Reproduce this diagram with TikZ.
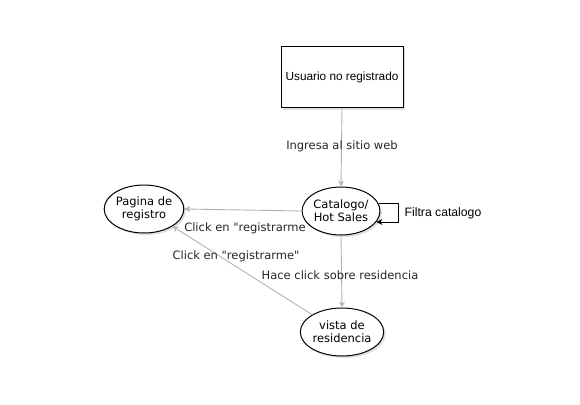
\documentclass[tikz,border=0pt]{standalone}
\usepackage{fontspec}
\setmainfont{DejaVu Sans}[Ligatures=TeXOff]
\newfontfamily\arialf{Liberation Sans}
\usetikzlibrary{arrows.meta,shadows,shapes.geometric,calc}
\begin{document}
\begin{tikzpicture}[x=1pt,y=-1pt,
  state/.style={ellipse,draw=black,line width=1pt,fill=white,minimum width=72pt,minimum height=48pt,inner sep=0pt,align=center,font=\fontsize{11.5}{13}\selectfont,drop shadow={shadow xshift=2pt,shadow yshift=-2pt,opacity=0.25}},
  boxn/.style={rectangle,draw=black,line width=1pt,fill=white,minimum width=122pt,minimum height=61pt,inner sep=0pt,font=\arialf\fontsize{11.8}{13}\selectfont,drop shadow={shadow xshift=2pt,shadow yshift=-2pt,opacity=0.25}},
  conn/.style={draw=black!30,line width=0.9pt,-{Stealth[open,length=6pt,width=6pt]}},
  lbl/.style={font=\fontsize{11.5}{13}\selectfont,text=black!85}]
\useasboundingbox (0,0) rectangle (580,404);
\node[boxn] (u) at (342,77) {Usuario no registrado};
\node[state,minimum width=72pt,minimum height=48pt] (c) at (341,211) {Catalogo/\\Hot Sales};
\node[state,minimum width=76pt] (p) at (144,209) {Pagina de\\registro};
\node[state,minimum width=76pt] (v) at (342,332) {vista de\\residencia};
\draw[conn] (u.south) -- (c.north);
\draw[conn] (c.west) -- (p.east);
\draw[conn] (c.south) -- (v.north);
\draw[conn] (v.north west) -- (p.south east);
\coordinate (l1) at (398,203);
\coordinate (l2) at (398,222);
\draw[black,line width=0.9pt,-{Stealth[length=6pt,width=6pt]}] ($(c.east |- l1)+(-1,0)$) -- (l1) -- (l2) -- ($(c.east |- l2)+(-4,0)$);
\node[lbl] (t1) at (342,146) {Ingresa al sitio web};
\node[lbl] (t2) at (245,228) {Click en "registrarme};
\node[lbl] (t3) at (236,256) {Click en "registrarme"};
\node[lbl] (t4) at (340,275) {Hace click sobre residencia};
\node[font=\arialf\fontsize{12.2}{13}\selectfont] (t5) at (443,213) {Filtra catalogo};
\end{tikzpicture}
\end{document}
